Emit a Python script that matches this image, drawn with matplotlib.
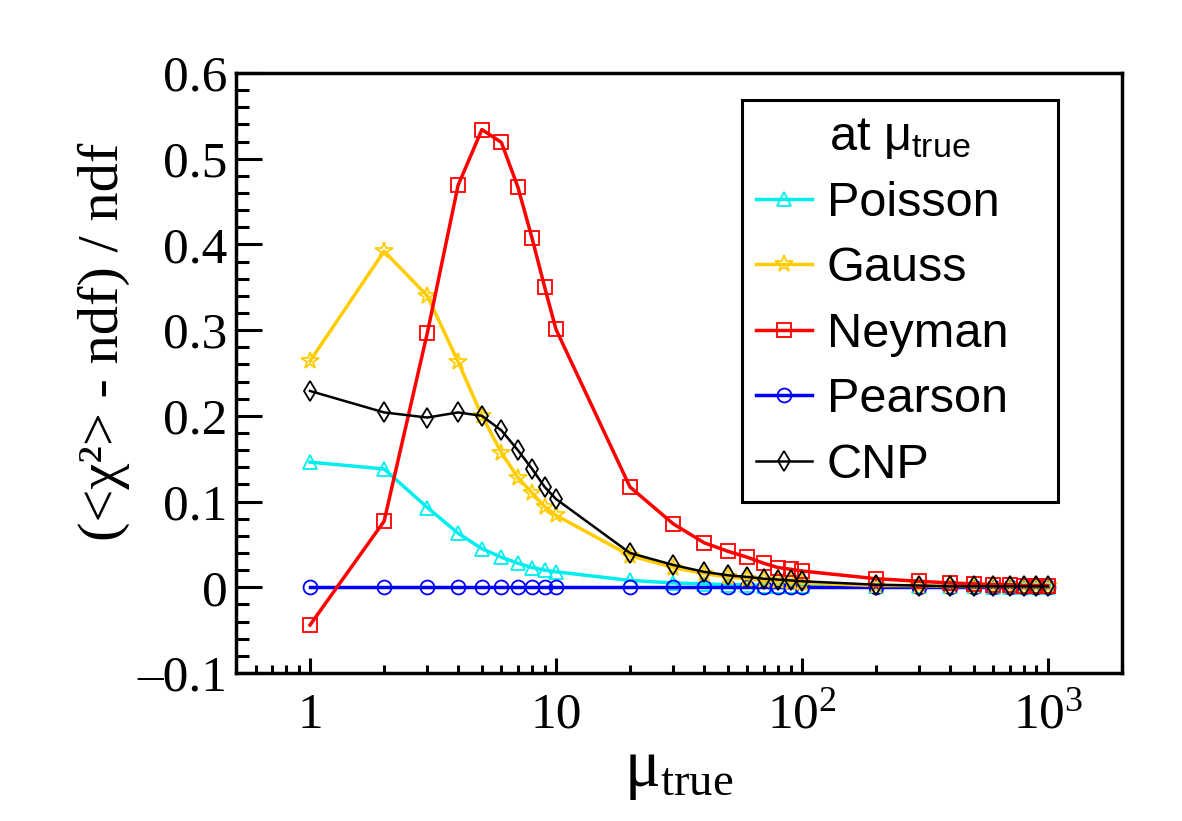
import matplotlib
matplotlib.use("Agg")
import matplotlib.pyplot as plt
from matplotlib.ticker import FixedLocator, FixedFormatter, LogLocator, MultipleLocator, FuncFormatter, NullFormatter

plt.rcParams["mathtext.fontset"] = "custom"
plt.rcParams["mathtext.rm"] = "Liberation Serif"
plt.rcParams["mathtext.sf"] = "Liberation Sans"

# mu_true values
mu = [1, 2, 3, 4, 5, 6, 7, 8, 9, 10,
      20, 30, 40, 50, 60, 70, 80, 90, 100,
      200, 300, 400, 500, 600, 700, 800, 900, 1000]

# (<chi2> - ndf) / ndf for each test statistic
poisson = [0.146, 0.138, 0.093, 0.063, 0.045, 0.035, 0.028, 0.023, 0.020, 0.018,
           0.008, 0.005, 0.004, 0.003, 0.003, 0.002, 0.002, 0.002, 0.002,
           0.001, 0.001, 0.001, 0.001, 0.0, 0.0, 0.0, 0.0, 0.0]
gauss = [0.264, 0.392, 0.340, 0.263, 0.200, 0.157, 0.128, 0.110, 0.094, 0.084,
         0.037, 0.023, 0.016, 0.012, 0.010, 0.008, 0.007, 0.006, 0.005,
         0.002, 0.002, 0.001, 0.001, 0.001, 0.001, 0.001, 0.001, 0.001]
neyman = [-0.044, 0.077, 0.297, 0.469, 0.534, 0.519, 0.467, 0.407, 0.350, 0.301,
          0.117, 0.074, 0.052, 0.042, 0.035, 0.028, 0.023, 0.021, 0.019,
          0.010, 0.007, 0.005, 0.004, 0.003, 0.003, 0.002, 0.002, 0.002]
pearson = [0.0] * 28
cnp = [0.229, 0.204, 0.198, 0.204, 0.200, 0.183, 0.160, 0.138, 0.117, 0.103,
       0.040, 0.026, 0.018, 0.014, 0.012, 0.010, 0.009, 0.008, 0.007,
       0.003, 0.002, 0.001, 0.001, 0.001, 0.001, 0.001, 0.001, 0.001]

fig = plt.figure(figsize=(11.82, 8.21), dpi=100)
ax = fig.add_axes([0.1997, 0.1803, 0.7493, 0.7308])

mk = dict(markerfacecolor="none", markeredgewidth=1.3)
ax.plot(mu, poisson, color="#00EEEE", lw=2.5, marker="^", ms=10, label="Poisson", zorder=2, **mk)
ax.plot(mu, gauss, color="#FFCC00", lw=2.5, marker="*", ms=13, label="Gauss", zorder=4, **mk)
ax.plot(mu, neyman, color="#FF0000", lw=2.5, marker="s", ms=10, label="Neyman", zorder=5, **mk)
ax.plot(mu, pearson, color="#0000FF", lw=2.5, marker="o", ms=10, label="Pearson", zorder=3, **mk)
ax.plot(mu, cnp, color="black", lw=1.8, marker="d", ms=10, label="CNP", zorder=6, **mk)

ax.set_xscale("log")
ax.set_xlim(0.5, 2000)
ax.set_ylim(-0.1, 0.6)

ax.xaxis.set_major_locator(FixedLocator([1, 10, 100, 1000]))
ax.xaxis.set_major_formatter(FixedFormatter(["1", "10", r"$\mathrm{10^{2}}$", r"$\mathrm{10^{3}}$"]))
ax.xaxis.set_minor_locator(LogLocator(base=10, subs=range(2, 10), numticks=20))
ax.xaxis.set_minor_formatter(NullFormatter())

ax.yaxis.set_major_locator(MultipleLocator(0.1))
ax.yaxis.set_minor_locator(MultipleLocator(0.02))
ax.yaxis.set_major_formatter(FuncFormatter(
    lambda v, p: "0" if abs(v) < 1e-9 else f"{v:.1f}".replace("-", "\u2013")))

for sp in ax.spines.values():
    sp.set_linewidth(2.5)

ax.tick_params(which="both", direction="in", top=False, right=False, width=2.2)
ax.tick_params(axis="y", which="major", length=19, pad=6)
ax.tick_params(axis="y", which="minor", length=9.5)
ax.tick_params(axis="x", which="major", length=11, pad=14)
ax.tick_params(axis="x", which="minor", length=5.5)
for lbl in ax.get_xticklabels() + ax.get_yticklabels():
    lbl.set_fontfamily("Liberation Serif")
    lbl.set_fontsize(37)

ax.set_xlabel(r"$\mathrm{\mu_{true}}$", fontsize=48)
ax.xaxis.set_label_coords(0.5, -0.105)
ax.set_ylabel("(<\u03c7\u00b2> - ndf) / ndf", fontfamily="Liberation Serif", fontsize=42)
ax.yaxis.set_label_coords(-0.12, 0.552)

leg = ax.legend(loc="upper left", bbox_to_anchor=(0.571, 0.955, 0.357, 0.0), mode="expand",
                borderaxespad=0, title=r"at $\mathsf{\mu_{true}}$", fancybox=False,
                edgecolor="black", handlelength=1.15, handletextpad=0.3, labelspacing=0.42,
                borderpad=0.3, prop={"family": "Liberation Sans", "size": 35},
                title_fontproperties={"family": "Liberation Sans", "size": 35})
leg.get_frame().set_linewidth(2.2)
leg.get_frame().set_alpha(1)

fig.savefig("out.png", dpi=100)
